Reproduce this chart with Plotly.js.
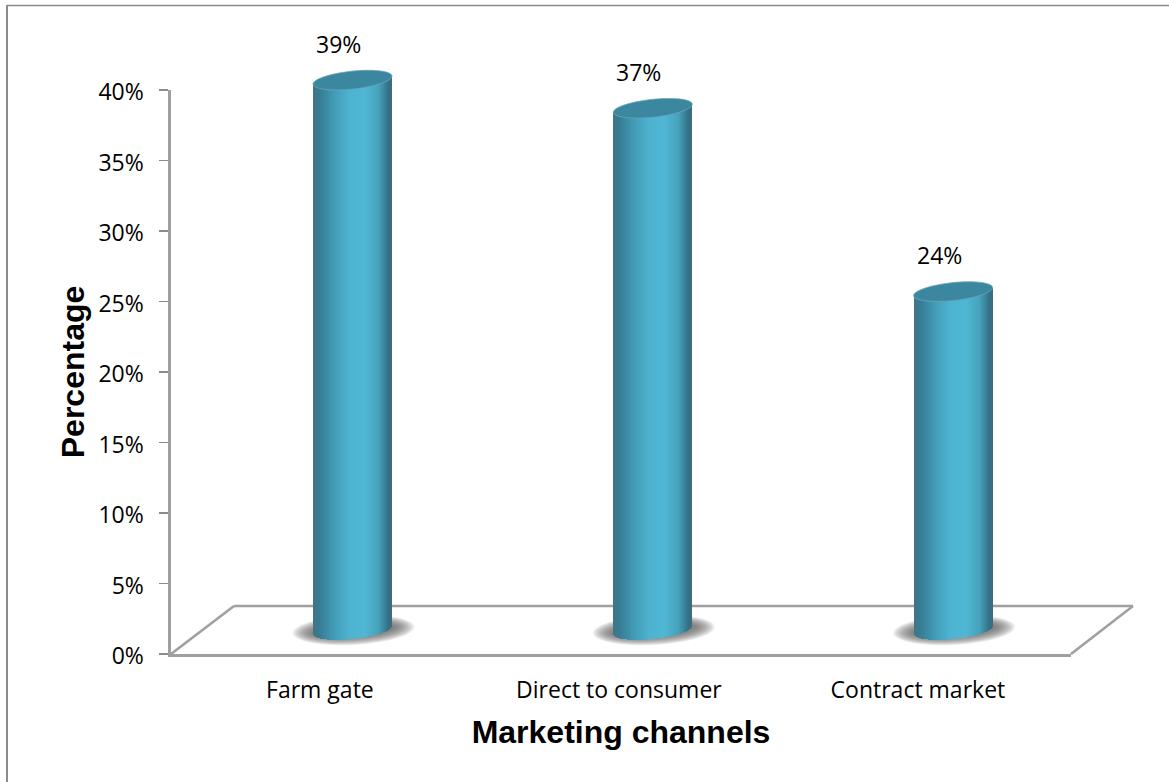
<!DOCTYPE html>
<html>
<head>
<meta charset="utf-8">
<script src="https://cdn.plot.ly/plotly-3.0.1.min.js"></script>
<style>html,body{margin:0;padding:0;background:#fff}</style>
</head>
<body>
<div id="chart"></div>
<script>
// Chart content
const categories = ["Farm gate", "Direct to consumer", "Contract market"];
const shares = [39, 37, 24];
const tickValues = [0, 5, 10, 15, 20, 25, 30, 35, 40];

// Page and plot-area geometry, in pixels
const W = 1169, H = 782;
const left = 171, right = 1133, top_ = 30, floorFront = 654, floorBack = 606, frontRight = 1071, backLeft = 234;
const axisTop = 90;
const plotW = right - left, plotH = floorFront - top_;
const pxPerPct = (floorFront - axisTop) / 40;

// Cylinders stand in the middle of the tilted floor
const baseY = 630;
const firstCentre = 352.5, spacing = 300.3;
const radius = 39.5, minor = 9, tilt = 4;

const x2Range = [(left - firstCentre) / spacing, (right - firstCentre) / spacing];
const y2Range = [(baseY - floorFront) / pxPerPct, (baseY - top_) / pxPerPct];

// Rim profile at horizontal offset dx from the cylinder axis, in percentage units
const shear = dx => (tilt * dx / radius) / pxPerPct;
const bulge = dx => (minor * Math.sqrt(Math.max(0, 1 - (dx / radius) ** 2))) / pxPerPct;

// Metal-like shading across the cylinder width
const stops = [[0, [66, 116, 134]], [0.07, [54, 124, 146]], [0.28, [68, 158, 186]], [0.45, [77, 179, 208]], [0.65, [79, 182, 211]], [0.82, [70, 162, 188]], [0.95, [50, 112, 132]], [1, [66, 106, 122]]];
function shade(t) {
  for (let i = 1; i < stops.length; i++) {
    if (t <= stops[i][0]) {
      const [a, ca] = stops[i - 1], [b, cb] = stops[i];
      const f = (t - a) / (b - a);
      return `rgb(${ca.map((c, k) => Math.round(c + (cb[k] - c) * f)).join(",")})`;
    }
  }
  return "rgb(66,106,122)";
}

const xIndex = categories.map((_, i) => i);
const stripW = 1 / spacing;
const traces = [];

// Anchors the front axes
traces.push({type: "scatter", mode: "none", x: xIndex, y: shares, xaxis: "x", yaxis: "y", hoverinfo: "skip", showlegend: false});

// Each cylinder is a stack of one-pixel bars running from the curved foot to the value
for (let dx = -radius; dx < radius; dx += 1) {
  const mid = dx + 0.5;
  const foot = shear(mid) - bulge(mid);
  traces.push({
    type: "bar", xaxis: "x2", yaxis: "y2", x: xIndex,
    y: shares.map(v => v + shear(mid) - foot),
    base: shares.map(() => foot),
    offset: dx / spacing, width: stripW * 1.02,
    marker: {color: shade((dx + radius) / (2 * radius)), line: {width: 0}},
    hoverinfo: "skip", showlegend: false
  });
}

// Closed outline of a tilted ellipse around a data point
function ellipsePath(i, v, a, b, s, dxPx, dyPx) {
  let d = "";
  for (let k = 0; k <= 72; k++) {
    const th = k / 72 * 2 * Math.PI;
    const px = a * Math.cos(th);
    const py = b * Math.sin(th) + s * Math.cos(th);
    const xd = i + (px + dxPx) / spacing;
    const yd = v + (py + dyPx) / pxPerPct;
    d += (k ? "L" : "M") + xd.toFixed(4) + "," + yd.toFixed(4);
  }
  return d + "Z";
}

const toPaperX = px => (px - left) / plotW;
const toPaperY = py => (floorFront - py) / plotH;
const rule = "#a0a0a0";
const shapes = [];

// Floor edges behind the front axis
[[left, floorFront, backLeft, floorBack], [backLeft, floorBack, right, floorBack], [right, floorBack, frontRight, floorFront]].forEach(s => {
  shapes.push({type: "line", xref: "paper", yref: "paper", layer: "below",
    x0: toPaperX(s[0]), y0: toPaperY(s[1]), x1: toPaperX(s[2]), y1: toPaperY(s[3]),
    line: {color: rule, width: 2.6}});
});

// Soft shadows under the cylinders, built up from nested translucent ellipses
xIndex.forEach(i => {
  for (let n = 0; n < 20; n++) {
    const g = n / 19;
    shapes.push({type: "path", xref: "x2", yref: "y2", layer: "below",
      path: ellipsePath(i, 0, 61 - 24 * g, 15 - 10 * g, 3, 1, 0),
      fillcolor: "rgba(100,100,100,0.085)", line: {width: 0}});
  }
});

// Cylinder tops
shares.forEach((v, i) => {
  shapes.push({type: "path", xref: "x2", yref: "y2", layer: "above",
    path: ellipsePath(i, v, radius, minor, tilt, 0, 0),
    fillcolor: "#3c87a0", line: {color: "#6aa6ba", width: 0.8}});
});

// Value labels above each top
const annotations = shares.map((v, i) => ({
  xref: "x2", yref: "y2", x: i, y: v, text: v + "%", showarrow: false,
  xshift: -14, yshift: 36.5, font: {family: "'Open Sans', sans-serif", size: 23, color: "#000"}
}));

const layout = {
  width: W, height: H, autosize: false, showlegend: false,
  paper_bgcolor: "#fff", plot_bgcolor: "rgba(0,0,0,0)",
  margin: {l: left, r: W - right, t: top_, b: H - floorFront, pad: 0},
  bargap: 0, barmode: "overlay",
  xaxis: {
    domain: [0, (frontRight - left) / plotW], range: [-0.498, 2.512], anchor: "y",
    tickmode: "array", tickvals: xIndex, ticktext: categories, ticks: "",
    showgrid: false, zeroline: false, showline: true, linecolor: rule, linewidth: 2.6,
    ticklabelstandoff: 14,
    tickfont: {family: "'Open Sans', sans-serif", size: 23, color: "#000"},
    title: {text: "<b>Marketing channels</b>", standoff: 17, font: {family: "'Liberation Sans', Arial, sans-serif", size: 32, color: "#000"}}
  },
  yaxis: {
    domain: [0, (floorFront - axisTop) / plotH], range: [0, 40], anchor: "x",
    tickmode: "array", tickvals: tickValues, ticktext: tickValues.map(v => v + "%"),
    ticks: "outside", ticklen: 9, tickwidth: 1.5, tickcolor: "#8c8c8c",
    showgrid: false, zeroline: false, showline: true, linecolor: rule, linewidth: 2.6,
    ticklabelstandoff: 11, ticklabelshift: 2,
    tickfont: {family: "'Open Sans', sans-serif", size: 23, color: "#000"},
    title: {text: "<b>Percentage</b>", standoff: 5, font: {family: "'Liberation Sans', Arial, sans-serif", size: 32, color: "#000"}}
  },
  xaxis2: {domain: [0, 1], range: x2Range, anchor: "y2", visible: false},
  yaxis2: {domain: [0, 1], range: y2Range, anchor: "x2", visible: false},
  shapes, annotations
};

// Page frame along the top and left edges
layout.shapes.push(
  {type: "line", xref: "paper", yref: "paper", layer: "below", x0: toPaperX(7), x1: toPaperX(W), y0: toPaperY(5.5), y1: toPaperY(5.5), line: {color: "#8c8c8c", width: 1.5}},
  {type: "line", xref: "paper", yref: "paper", layer: "below", x0: toPaperX(7), x1: toPaperX(7), y0: toPaperY(5), y1: toPaperY(H), line: {color: "#8c8c8c", width: 2}}
);

Plotly.newPlot("chart", traces, layout, {displayModeBar: false, staticPlot: true});
</script>
</body>
</html>
